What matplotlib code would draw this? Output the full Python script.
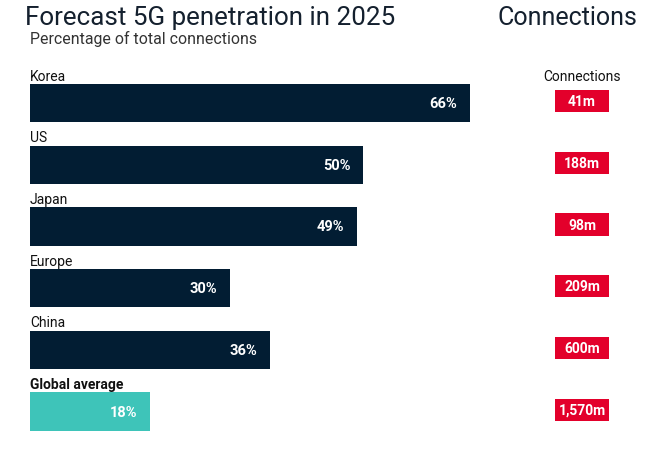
import matplotlib
matplotlib.use("Agg")
import matplotlib.pyplot as plt

# ====== データ ======
regions = ["Korea", "US", "Japan", "Europe", "China", "Global average"]
penetration = [66, 50, 49, 30, 36, 18]
connections = ["41m", "188m", "98m", "209m", "600m", "1,570m"]

navy = "#021d33"
teal = "#3ec4b9"
red = "#e3002b"
bar_colors = [navy] * 5 + [teal]

plt.rcParams["font.family"] = ["Roboto", "DejaVu Sans"]

W, H = 655, 452
fig = plt.figure(figsize=(W / 100, H / 100), dpi=100)


def px_box(x0, y0, x1, y1):
    # ピクセル座標 (左上原点) → figure 座標
    return [x0 / W, 1 - y1 / H, (x1 - x0) / W, (y1 - y0) / H]


# ====== バー ======
ax = fig.add_axes(px_box(30, 73.2, 530, 443.4))
ypos = list(range(len(regions)))
ax.barh(ypos, penetration, height=0.62, color=bar_colors)
ax.set_xlim(0, 75)
ax.set_ylim(len(regions) - 0.5, -0.5)
ax.axis("off")

for i, (name, val) in enumerate(zip(regions, penetration)):
    weight = "bold" if i == len(regions) - 1 else "normal"
    ax.text(0, i - 0.33, name, ha="left", va="bottom", fontsize=10,
            color="#111111", fontweight=weight)
    ax.annotate(f"{val}%", xy=(val, i), xytext=(-9, 0), textcoords="offset points",
                ha="right", va="center", fontsize=10.5, fontweight="bold", color="white")

# ====== Connections ======
ax2 = fig.add_axes(px_box(555, 73.2, 609, 443.4))
box_y = [y - 0.03 for y in ypos]
ax2.barh(box_y, [1] * len(regions), height=0.36, color=red)
ax2.set_xlim(0, 1)
ax2.set_ylim(len(regions) - 0.5, -0.5)
ax2.axis("off")
for y, c in zip(box_y, connections):
    ax2.text(0.5, y, c, ha="center", va="center", fontsize=10,
             fontweight="bold", color="white")
ax2.text(0.5, -0.33, "Connections", ha="center", va="bottom", fontsize=10,
         color="#111111")

# ====== タイトル ======
fig.text(25 / W, 1 - 25 / H, "Forecast 5G penetration in 2025", fontsize=18.7,
         color="#14202e", ha="left", va="baseline")
fig.text(30 / W, 1 - 44 / H, "Percentage of total connections", fontsize=11.4,
         color="#333333", ha="left", va="baseline")
fig.text(637 / W, 1 - 25 / H, "Connections", fontsize=18,
         color="#14202e", ha="right", va="baseline")

fig.savefig("out.png", dpi=100)
